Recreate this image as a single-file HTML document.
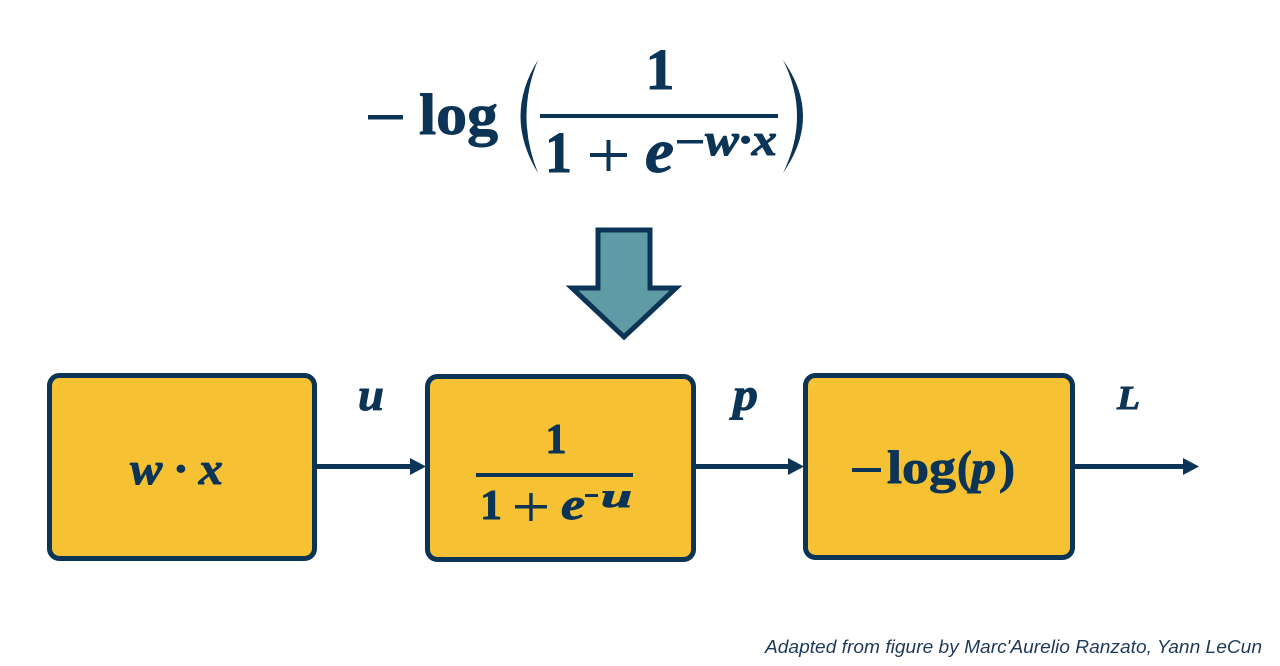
<!DOCTYPE html>
<html>
<head>
<meta charset="utf-8">
<style>
  html, body { margin:0; padding:0; background:#ffffff; }
  svg { display:block; }
  .m { font-family:"Liberation Serif", serif; font-weight:bold; fill:#0b3456; stroke:#0b3456; stroke-width:0.9; }
  .mi { font-family:"Liberation Serif", serif; font-weight:bold; font-style:italic; fill:#0b3456; stroke:#0b3456; stroke-width:0.9; }
  .foot { font-family:"Liberation Sans", sans-serif; font-style:italic; fill:#1d3a5c; }
</style>
</head>
<body>
<svg width="1280" height="666" viewBox="0 0 1280 666" xmlns="http://www.w3.org/2000/svg">
  <rect width="1280" height="666" fill="#ffffff"/>

  <!-- Top formula -->
  <rect x="368" y="115" width="35" height="4.5" fill="#0b3456"/>
  <text class="m" x="419" y="134" font-size="58" textLength="79" lengthAdjust="spacingAndGlyphs">log</text>
  <path d="M538,60 Q503,116 538,173 Q515,116 538,60 Z" fill="#0b3456"/>
  <path d="M783,60 Q823,116 783,173 Q811,116 783,60 Z" fill="#0b3456"/>
  <text class="m" x="660" y="89" font-size="58" text-anchor="middle">1</text>
  <rect x="540" y="114" width="238" height="4" fill="#0b3456"/>
  <text class="m" x="545" y="172" font-size="58" textLength="27" lengthAdjust="spacingAndGlyphs">1</text>
  <rect x="590" y="153" width="37" height="4" fill="#0b3456"/>
  <rect x="606.5" y="140" width="4" height="31" fill="#0b3456"/>
  <text class="mi" x="645" y="172" font-size="62" textLength="29" lengthAdjust="spacingAndGlyphs">e</text>
  <rect x="677" y="140" width="26" height="3.5" fill="#0b3456"/>
  <text class="mi" x="705" y="155" font-size="46" textLength="72" lengthAdjust="spacingAndGlyphs">w·x</text>

  <!-- Big down arrow -->
  <polygon points="598,230 650,230 650,288 676,288 624,337 572,288 598,288"
           fill="#5e9ba4" stroke="#0b3456" stroke-width="5" stroke-linejoin="miter"/>

  <!-- Boxes -->
  <rect x="49.5" y="375.5" width="265" height="183" rx="10" ry="10" fill="#f6c234" stroke="#0b3456" stroke-width="5"/>
  <rect x="427.5" y="376.5" width="266" height="183" rx="10" ry="10" fill="#f6c234" stroke="#0b3456" stroke-width="5"/>
  <rect x="805.5" y="375.5" width="267" height="182" rx="10" ry="10" fill="#f6c234" stroke="#0b3456" stroke-width="5"/>

  <!-- Box 1 text -->
  <text class="mi" x="130" y="484" font-size="46" textLength="93" lengthAdjust="spacingAndGlyphs">w · x</text>

  <!-- Box 2 fraction -->
  <text class="m" x="556" y="453" font-size="42" text-anchor="middle">1</text>
  <rect x="476" y="473" width="157" height="4" fill="#0b3456"/>
  <text class="m" x="480" y="519" font-size="42" textLength="22" lengthAdjust="spacingAndGlyphs">1</text>
  <rect x="515" y="505" width="32" height="3.5" fill="#0b3456"/>
  <rect x="529.2" y="493" width="3.5" height="28" fill="#0b3456"/>
  <text class="mi" x="561" y="519" font-size="44" textLength="24" lengthAdjust="spacingAndGlyphs">e</text>
  <rect x="585" y="494" width="13" height="3" fill="#0b3456"/>
  <text class="mi" x="601" y="507" font-size="34" textLength="31" lengthAdjust="spacingAndGlyphs">u</text>

  <!-- Box 3 text -->
  <rect x="852" y="468" width="29" height="4" fill="#0b3456"/>
  <text class="m" x="887" y="483" font-size="47" textLength="69" lengthAdjust="spacingAndGlyphs">log</text>
  <text class="m" x="957" y="483" font-size="47" textLength="15" lengthAdjust="spacingAndGlyphs">(</text>
  <text class="mi" x="971" y="483" font-size="47" textLength="25" lengthAdjust="spacingAndGlyphs">p</text>
  <text class="m" x="999" y="483" font-size="47" textLength="16" lengthAdjust="spacingAndGlyphs">)</text>

  <!-- Connectors -->
  <line x1="317" y1="466.5" x2="412" y2="466.5" stroke="#0b3456" stroke-width="5"/>
  <polygon points="410,458 426,466.5 410,475" fill="#0b3456"/>
  <line x1="696" y1="466.5" x2="790" y2="466.5" stroke="#0b3456" stroke-width="5"/>
  <polygon points="788,458 804,466.5 788,475" fill="#0b3456"/>
  <line x1="1075" y1="466.5" x2="1185" y2="466.5" stroke="#0b3456" stroke-width="5"/>
  <polygon points="1183,458 1199,466.5 1183,475" fill="#0b3456"/>

  <!-- Connector labels -->
  <text class="mi" x="358" y="410" font-size="46" textLength="26" lengthAdjust="spacingAndGlyphs">u</text>
  <text class="mi" x="733" y="410" font-size="46" textLength="25" lengthAdjust="spacingAndGlyphs">p</text>
  <text class="mi" x="1117" y="409" font-size="34" textLength="23" lengthAdjust="spacingAndGlyphs">L</text>

  <!-- Footer -->
  <text class="foot" x="765" y="653" font-size="18" textLength="497" lengthAdjust="spacingAndGlyphs">Adapted from figure by Marc'Aurelio Ranzato, Yann LeCun</text>
</svg>
</body>
</html>
